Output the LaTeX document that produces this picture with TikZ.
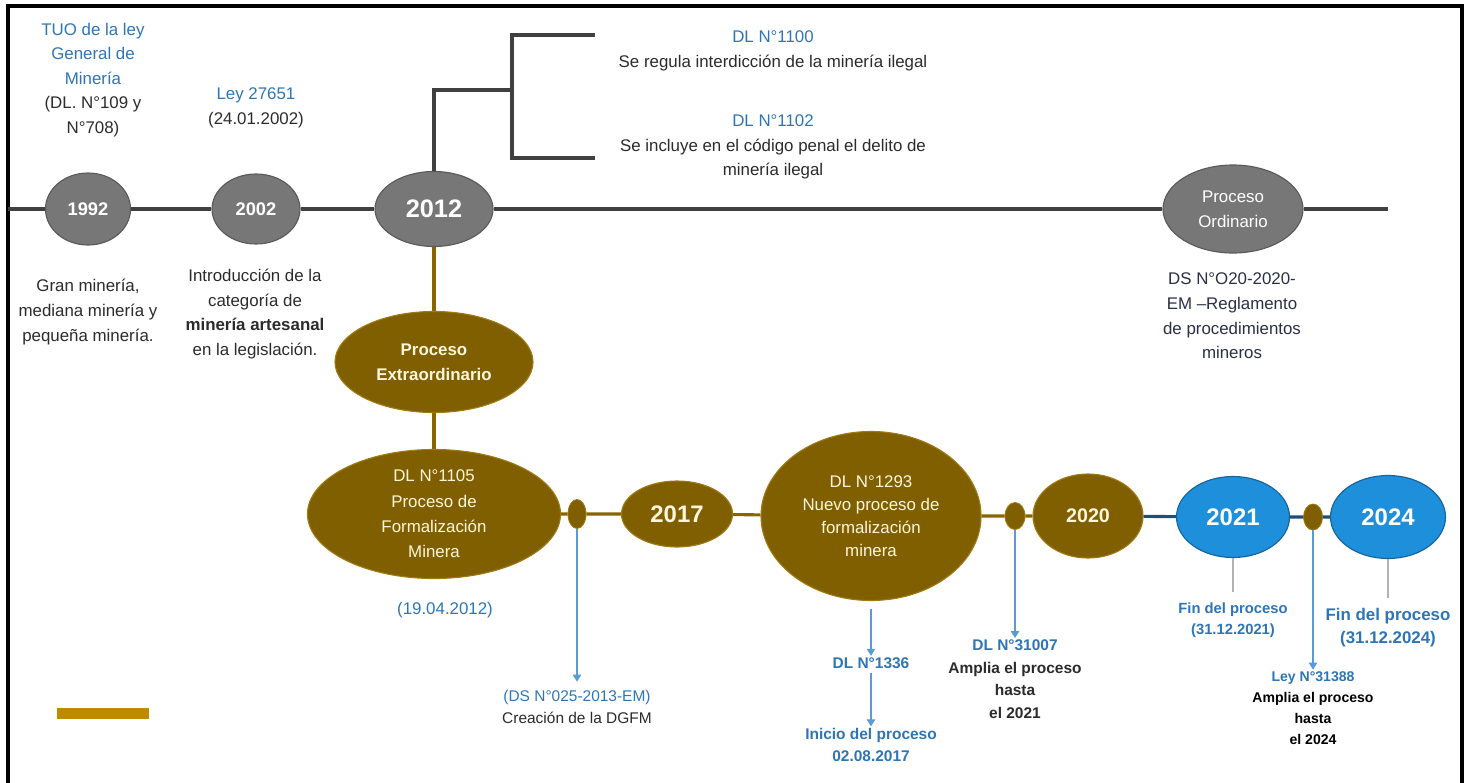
\documentclass[tikz,border=0pt]{standalone}
\usepackage{fontspec}
\setmainfont{Liberation Sans}
\usepackage{xcolor}
\usepackage{tikz}
\usetikzlibrary{shapes,arrows.meta,positioning}

\definecolor{tlgray}{HTML}{777777}
\definecolor{tlgrayedge}{HTML}{5A5A5A}
\definecolor{tlline}{HTML}{404040}
\definecolor{tlbrown}{HTML}{7F5F00}
\definecolor{tlbrownedge}{HTML}{A07A10}
\definecolor{tlgold}{HTML}{BF8A00}
\definecolor{tlblue}{HTML}{1E8FDB}
\definecolor{tlblueedge}{HTML}{16629A}
\definecolor{tlblueline}{HTML}{1F4E79}
\definecolor{txtblue}{HTML}{2E75B6}
\definecolor{txtdark}{HTML}{2B2B2B}
\definecolor{txtnavy}{HTML}{2A2F45}
\definecolor{cream}{HTML}{FFF6DC}
\definecolor{arrowblue}{HTML}{5B9BD5}

\newcommand{\pxu}{0.025cm}

\tikzset{
    grayyear/.style={ellipse, inner sep=0pt, fill=tlgray, draw=tlgrayedge, line width=0.8pt, text=white},
    brownyear/.style={ellipse, inner sep=0pt, fill=tlbrown, draw=tlbrownedge, line width=0.8pt, text=cream, align=center},
    blueyear/.style={ellipse, inner sep=0pt, fill=tlblue, draw=tlblueedge, line width=0.8pt, text=white},
    browndot/.style={ellipse, inner sep=0pt, fill=tlbrown, draw=tlbrownedge, line width=0.6pt},
    graytrunk/.style={draw=tlline, line width=2.2pt},
    browntrunk/.style={draw=tlbrown!85!tlgold, line width=2.2pt},
    bluetrunk/.style={draw=tlblueline, line width=2.2pt},
    bluearrow/.style={draw=arrowblue, line width=0.9pt, -{Triangle[width=6pt,length=5pt]}},
    grayleg/.style={draw=gray!60, line width=0.9pt},
    note/.style={align=center, inner sep=1pt, text=txtdark, font=\fontsize{12}{17.5}\selectfont},
    smallnote/.style={align=center, inner sep=1pt, text=txtdark, font=\fontsize{11}{15.5}\selectfont},
    boldnote/.style={align=center, inner sep=1pt, text=txtblue, font=\bfseries\fontsize{11}{16}\selectfont}
}

\begin{document}
\begin{tikzpicture}[x=\pxu, y=-\pxu]

    \useasboundingbox (0,0) rectangle (1470,782);

    \draw[line width=2.5pt] (8,800) -- (8,6) -- (1462,6) -- (1462,800);

    \node[grayyear, minimum width=85*\pxu, minimum height=72*\pxu,
        font=\bfseries\fontsize{13}{15}\selectfont] (y1992) at (88,209) {1992};
    \node[grayyear, minimum width=88*\pxu, minimum height=70*\pxu,
        font=\bfseries\fontsize{13}{15}\selectfont] (y2002) at (256,209) {2002};
    \node[grayyear, minimum width=118*\pxu, minimum height=75*\pxu,
        font=\bfseries\fontsize{18}{20}\selectfont] (y2012) at (434,209) {2012};
    \node[grayyear, minimum width=140*\pxu, minimum height=88*\pxu, align=center,
        font=\fontsize{12}{17.5}\selectfont] (ordin) at (1233,209) {Proceso\\Ordinario};

    \coordinate (gl) at (8,209);
    \coordinate (gr) at (1388,209);
    \draw[graytrunk] (gl) -- (y1992) -- (y2002) -- (y2012) -- (ordin) -- (gr);

    \coordinate (fork) at (512,90);
    \coordinate (armtop) at (595,35);
    \coordinate (armbot) at (595,158);
    \draw[graytrunk] (y2012.north) |- (fork);
    \draw[graytrunk] (armtop) -| (fork) |- (armbot);

    \node[note] (dl1100) at (773,51)
        {\textcolor{txtblue}{DL N°1100}\\Se regula interdicción de la minería ilegal};
    \node[note] (dl1102) at (773,147)
        {\textcolor{txtblue}{DL N°1102}\\Se incluye en el código penal el delito de\\minería ilegal};

    \node[note] (tuo) at (93,80)
        {\textcolor{txtblue}{TUO de la ley}\\\textcolor{txtblue}{General de}\\\textcolor{txtblue}{Minería}\\(DL. N°109 y\\N°708)};
    \node[note] (ley27651) at (256,108)
        {\textcolor{txtblue}{Ley 27651}\\(24.01.2002)};
    \node[note] (gran) at (88,312)
        {Gran minería,\\mediana minería y\\pequeña minería.};
    \node[note] (intro) at (255,314)
        {Introducción de la\\categoría de\\\textbf{minería artesanal}\\en la legislación.};
    \node[note, text=txtnavy] (ds020) at (1232,316)
        {DS N°O20-2020-\\EM –Reglamento\\de procedimientos\\mineros};

    \node[brownyear, minimum width=198*\pxu, minimum height=101*\pxu,
        font=\bfseries\fontsize{12}{17.5}\selectfont] (extra) at (434,362) {Proceso\\Extraordinario};
    \node[brownyear, minimum width=253*\pxu, minimum height=129*\pxu,
        font=\fontsize{12}{18}\selectfont] (dl1105) at (434,514)
        {DL N°1105\\Proceso de\\Formalización\\Minera};
    \node[browndot, minimum width=18*\pxu, minimum height=29*\pxu] (dot1) at (577,514) {};
    \node[brownyear, minimum width=111*\pxu, minimum height=66*\pxu,
        font=\bfseries\fontsize{17}{20}\selectfont] (y2017) at (677,514) {2017};
    \node[brownyear, minimum width=220*\pxu, minimum height=169*\pxu,
        font=\fontsize{12}{16.5}\selectfont] (dl1293) at (871,516)
        {DL N°1293\\Nuevo proceso de\\formalización\\minera};
    \node[browndot, minimum width=20*\pxu, minimum height=27*\pxu] (dot2) at (1015,516) {};
    \node[brownyear, minimum width=110*\pxu, minimum height=84*\pxu,
        font=\bfseries\fontsize{14}{16}\selectfont] (y2020) at (1088,516) {2020};
    \node[blueyear, minimum width=113*\pxu, minimum height=81*\pxu,
        font=\bfseries\fontsize{17}{20}\selectfont] (y2021) at (1233,517) {2021};
    \node[browndot, minimum width=19*\pxu, minimum height=26*\pxu] (dot3) at (1313,517) {};
    \node[blueyear, minimum width=115*\pxu, minimum height=83*\pxu,
        font=\bfseries\fontsize{17}{20}\selectfont] (y2024) at (1388,517) {2024};

    \draw[browntrunk] (y2012) -- (extra) -- (dl1105);
    \draw[browntrunk] (dl1105) -- (dot1) -- (y2017) -- (dl1293) -- (dot2) -- (y2020);
    \draw[bluetrunk] (y2020) -- (y2021) -- (dot3) -- (y2024);

    \node[note, text=txtblue] (f1105) at (445,610) {(19.04.2012)};

    \node[smallnote] (dgfm) at (577,707)
        {\textcolor{txtblue}{(DS N°025-2013-EM)}\\Creación de la DGFM};
    \draw[bluearrow, shorten >=5pt] (dot1) -- (dgfm);

    \node[boldnote] (dl1336) at (871,663) {DL N°1336};
    \node[boldnote] (inicio) at (871,745) {Inicio del proceso\\02.08.2017};
    \draw[bluearrow, shorten <=0.2cm] (dl1293) -- (dl1336);
    \draw[bluearrow, shorten <=2pt] (dl1336) -- (inicio);

    \node[boldnote] (dl31007) at (1015,679)
        {DL N°31007\\\textcolor{txtdark}{Amplia el proceso}\\\textcolor{txtdark}{hasta}\\\textcolor{txtdark}{el 2021}};
    \draw[bluearrow] (dot2) -- (dl31007);

    \node[boldnote, font=\bfseries\fontsize{10.5}{15}\selectfont] (fin21) at (1233,620)
        {Fin del proceso\\(31.12.2021)};
    \draw[grayleg, shorten >=6pt] (y2021) -- (fin21);

    \node[boldnote, font=\bfseries\fontsize{12}{16.5}\selectfont] (fin24) at (1388,628)
        {Fin del proceso\\(31.12.2024)};
    \draw[grayleg, shorten >=6pt] (y2024) -- (fin24);

    \node[boldnote, font=\bfseries\fontsize{10}{15}\selectfont] (ley31388) at (1313,708)
        {Ley N°31388\\\textcolor{black}{Amplia el proceso}\\\textcolor{black}{hasta}\\\textcolor{black}{el 2024}};
    \draw[bluearrow] (dot3) -- (ley31388);

    \draw[
        draw=none,
        fill=tlgold
    ] (57,708) rectangle (149,719);

\end{tikzpicture}
\end{document}
